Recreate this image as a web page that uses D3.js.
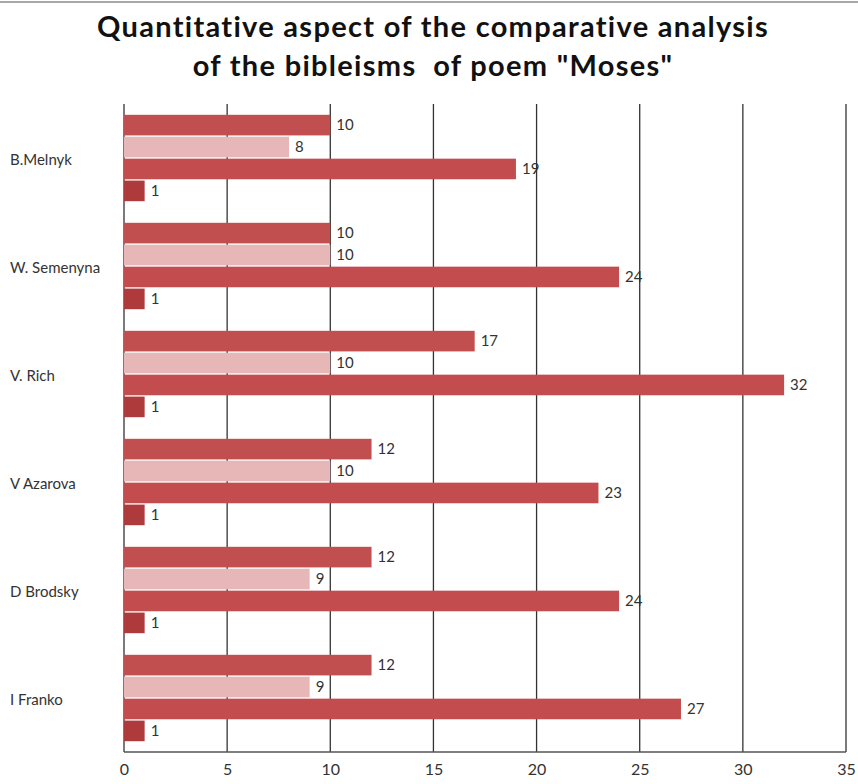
<!DOCTYPE html>
<html>
<head>
<meta charset="utf-8">
<script src="https://cdn.jsdelivr.net/npm/d3@7"></script>
<style>
  body { margin: 0; background: #fff; }
  svg { display: block; }
</style>
</head>
<body>
<svg id="chart" width="858" height="784"></svg>
<script>
const categories = ["B.Melnyk", "W. Semenyna", "V. Rich", "V Azarova", "D Brodsky", "I Franko"];
const series1 = [10, 10, 17, 12, 12, 12];
const series2 = [8, 10, 10, 10, 9, 9];
const series3 = [19, 24, 32, 23, 24, 27];
const series4 = [1, 1, 1, 1, 1, 1];
const seriesNames = ["s1", "s2", "s3", "s4"];
const seriesColors = ["#c24f4f", "#e7b6b7", "#c34d4e", "#ae3a3b"];
const xTicks = [0, 5, 10, 15, 20, 25, 30, 35];
const titleLines = ["Quantitative aspect of the comparative analysis", "of the bibleisms  of poem \"Moses\""];

const allSeries = [series1, series2, series3, series4];
const svg = d3.select("#chart");
const W = 858, H = 784;
const FONT = "Lato, 'Open Sans', sans-serif";
const m = {left: 124, right: 12, top: 104, bottom: 32};
const x = d3.scaleLinear().domain([0, 35]).range([m.left, W - m.right]);
const y = d3.scaleBand().domain(categories).range([m.top, H - m.bottom]).paddingInner(0.2).paddingOuter(0.1);
const ys = d3.scaleBand().domain(seriesNames).range([0, y.bandwidth()]).paddingInner(0.06);

// top border line
svg.append("line").attr("x1", 0).attr("x2", W).attr("y1", 2).attr("y2", 2)
  .attr("stroke", "#a8a8a8").attr("stroke-width", 2);

// title
svg.append("text").attr("x", 433).attr("y", 37)
  .attr("text-anchor", "middle").attr("font-family", FONT)
  .attr("font-weight", "bold").attr("font-size", 29).attr("fill", "#111")
  .attr("letter-spacing", 1.3)
  .selectAll("tspan").data(titleLines).join("tspan")
  .attr("x", 433).attr("dy", (d, i) => i === 0 ? 0 : 39).style("white-space", "pre").text(d => d);

// gridlines
svg.append("g").selectAll("line").data(xTicks).join("line")
  .attr("x1", d => x(d)).attr("x2", d => x(d))
  .attr("y1", m.top).attr("y2", H - m.bottom)
  .attr("stroke", "#333").attr("stroke-width", 1.3);
// bottom axis line
svg.append("line").attr("x1", x(0)).attr("x2", x(35))
  .attr("y1", H - m.bottom).attr("y2", H - m.bottom)
  .attr("stroke", "#555").attr("stroke-width", 1.5);

// x tick labels
const xAxis = svg.append("g").attr("transform", `translate(0,${H - m.bottom})`)
  .call(d3.axisBottom(x).tickValues(xTicks).tickSize(0).tickPadding(12));
xAxis.select(".domain").remove();
xAxis.selectAll("text").attr("font-family", FONT).attr("font-size", 16).attr("fill", "#333");

// category labels
svg.append("g").selectAll("text").data(categories).join("text")
  .attr("x", 10).attr("y", d => y(d) + y.bandwidth() / 2 + 3)
  .attr("dominant-baseline", "middle")
  .attr("font-family", FONT).attr("font-size", 15).attr("fill", "#333")
  .text(d => d);

// bars
const flat = [];
categories.forEach((c, ci) => {
  allSeries.forEach((s, si) => flat.push({cat: c, key: seriesNames[si], v: s[ci], si}));
});
svg.append("g").selectAll("rect").data(flat).join("rect")
  .attr("x", x(0))
  .attr("y", d => y(d.cat) + ys(d.key))
  .attr("width", d => x(d.v) - x(0))
  .attr("height", ys.bandwidth())
  .attr("fill", d => seriesColors[d.si]);

// value labels
svg.append("g").selectAll("text").data(flat).join("text")
  .attr("x", d => x(d.v) + 6)
  .attr("y", d => y(d.cat) + ys(d.key) + ys.bandwidth() / 2 + 1)
  .attr("dominant-baseline", "middle")
  .attr("font-family", FONT).attr("font-size", 15).attr("fill", "#333")
  .text(d => d.v);
</script>
</body>
</html>
